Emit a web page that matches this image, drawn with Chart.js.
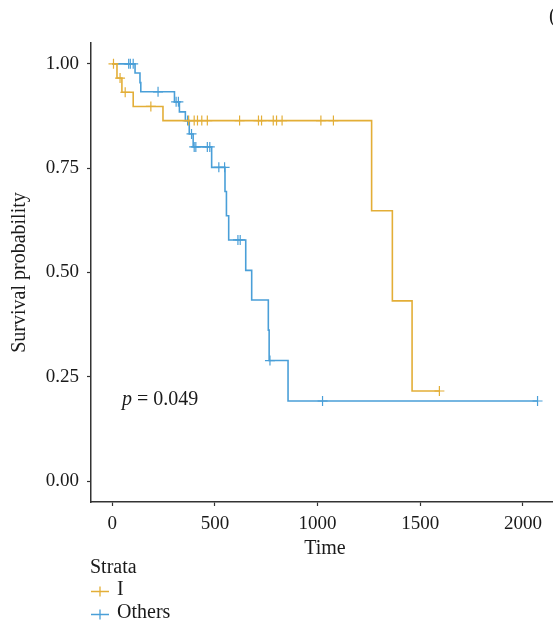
<!DOCTYPE html>
<html>
<head>
<meta charset="utf-8">
<script src="https://cdn.jsdelivr.net/npm/chart.js@4.4.1/dist/chart.umd.min.js"></script>
<style>
  html, body { margin: 0; padding: 0; overflow: hidden; background: #fff; }
  #wrap { width: 565px; height: 631px; }
</style>
</head>
<body>
<div id="wrap"><canvas id="km" width="565" height="631"></canvas></div>
<script>
// Kaplan-Meier steps (time, survival)
const iTimes = [0, 23, 47, 102, 247, 1263, 1364, 1460, 1593];
const iSurv = [1, 0.966, 0.932, 0.898, 0.864, 0.648, 0.432, 0.216, 0.216];
const iCensor = [6, 38, 63, 188, 372, 399, 415, 436, 463, 620, 712, 727, 784, 800, 827, 1016, 1077, 1593];

const oTimes = [0, 111, 135, 139, 303, 327, 356, 375, 394, 484, 549, 556, 567, 650, 679, 760, 764, 856, 2071];
const oSurv = [1, 0.978, 0.955, 0.933, 0.909, 0.885, 0.864, 0.832, 0.801, 0.752, 0.694, 0.636, 0.578, 0.505, 0.434, 0.362, 0.289, 0.192, 0.192];
const oCensor = [80, 88, 102, 223, 311, 322, 367, 386, 399, 407, 463, 475, 519, 547, 612, 623, 768, 1024, 2071];

const strata = ['I', 'Others'];
const colors = ['#E3AE37', '#4A9FD8'];

const xTicks = [0, 500, 1000, 1500, 2000];
const yTicks = [0, 0.25, 0.5, 0.75, 1];

const pLabel = '0.049';

const serif = '"Liberation Serif", "DejaVu Serif", serif';
const textColor = '#1a1a1a';
const axisColor = '#333333';

// survival value of a step curve at time t
function survAt(times, surv, t) {
    let v = surv[0];
    for (let i = 0; i < times.length; i++) {
        if (times[i] <= t) v = surv[i];
    }
    return v;
}

function steps(times, surv) {
    return times.map((t, i) => ({ x: t, y: surv[i] }));
}

function marks(times, surv, censor) {
    return censor.map(t => ({ x: t, y: survAt(times, surv, t) }));
}

// p-value, legend and the cut-off panel letter
const annotations = {
    id: 'annotations',
    afterDraw(chart) {
        const ctx = chart.ctx;
        const xs = chart.scales.x;
        const ys = chart.scales.y;
        ctx.save();
        ctx.textBaseline = 'middle';
        ctx.fillStyle = textColor;

        // p-value
        let px = xs.getPixelForValue(47);
        const py = ys.getPixelForValue(0.195);
        ctx.font = 'italic 20px ' + serif;
        ctx.textAlign = 'left';
        ctx.fillText('p', px, py);
        px += ctx.measureText('p').width;
        ctx.font = '20px ' + serif;
        ctx.fillText(' = ' + pLabel, px, py);

        // legend
        ctx.font = '20px ' + serif;
        ctx.fillText('Strata', 90, 568);
        const rows = [590, 613];
        strata.forEach((name, i) => {
            const cy = rows[i] + 1.5;
            ctx.strokeStyle = colors[i];
            ctx.lineWidth = 1.3;
            ctx.beginPath();
            ctx.moveTo(91, cy);
            ctx.lineTo(109, cy);
            ctx.moveTo(100, cy - 5);
            ctx.lineTo(100, cy + 5);
            ctx.stroke();
            ctx.fillStyle = textColor;
            ctx.fillText(name, 117, rows[i]);
        });

        // panel letter of the next figure, cut by the edge
        ctx.font = '20px ' + serif;
        ctx.fillText('(', 549, 17);
        ctx.restore();
    }
};

const datasets = [];
strata.forEach((name, i) => {
    const times = i === 0 ? iTimes : oTimes;
    const surv = i === 0 ? iSurv : oSurv;
    const censor = i === 0 ? iCensor : oCensor;
    datasets.push({
        label: name,
        data: steps(times, surv),
        stepped: 'before',
        borderColor: colors[i],
        borderWidth: 1.6,
        pointRadius: 0,
        fill: false
    });
    datasets.push({
        label: name + ' censored',
        data: marks(times, surv, censor),
        showLine: false,
        pointStyle: 'cross',
        pointRadius: 5,
        borderColor: colors[i],
        borderWidth: 1.2,
        backgroundColor: colors[i]
    });
});

new Chart(document.getElementById('km'), {
    type: 'line',
    data: { datasets: datasets },
    plugins: [annotations],
    options: {
        responsive: false,
        animation: false,
        layout: { padding: { top: 43, left: 0, right: 0, bottom: 0 } },
        plugins: {
            legend: { display: false },
            tooltip: { enabled: false }
        },
        scales: {
            x: {
                type: 'linear',
                min: -103.5,
                max: 2174.5,
                afterFit: scale => { scale.height = 129; },
                afterBuildTicks: scale => { scale.ticks = xTicks.map(v => ({ value: v })); },
                ticks: {
                    color: textColor,
                    font: { family: serif, size: 19 },
                    padding: 7,
                    maxRotation: 0,
                    callback: v => String(v)
                },
                grid: { drawOnChartArea: false, drawTicks: true, tickLength: 4, color: axisColor, tickWidth: 1.2 },
                border: { color: axisColor, width: 1.5 },
                title: {
                    display: true,
                    text: 'Time',
                    color: textColor,
                    font: { family: serif, size: 20 },
                    padding: { top: 0, bottom: 70 }
                }
            },
            y: {
                type: 'linear',
                min: -0.05,
                max: 1.05,
                afterFit: scale => { scale.width = 91; },
                afterBuildTicks: scale => { scale.ticks = yTicks.map(v => ({ value: v })); },
                ticks: {
                    color: textColor,
                    font: { family: serif, size: 19 },
                    padding: 8,
                    callback: v => v.toFixed(2)
                },
                grid: { drawOnChartArea: false, drawTicks: true, tickLength: 4, color: axisColor, tickWidth: 1.2 },
                border: { color: axisColor, width: 1.5 },
                title: {
                    display: true,
                    text: 'Survival probability',
                    color: textColor,
                    font: { family: serif, size: 20 },
                    padding: { top: 8, bottom: 0 }
                }
            }
        }
    }
});
</script>
</body>
</html>
